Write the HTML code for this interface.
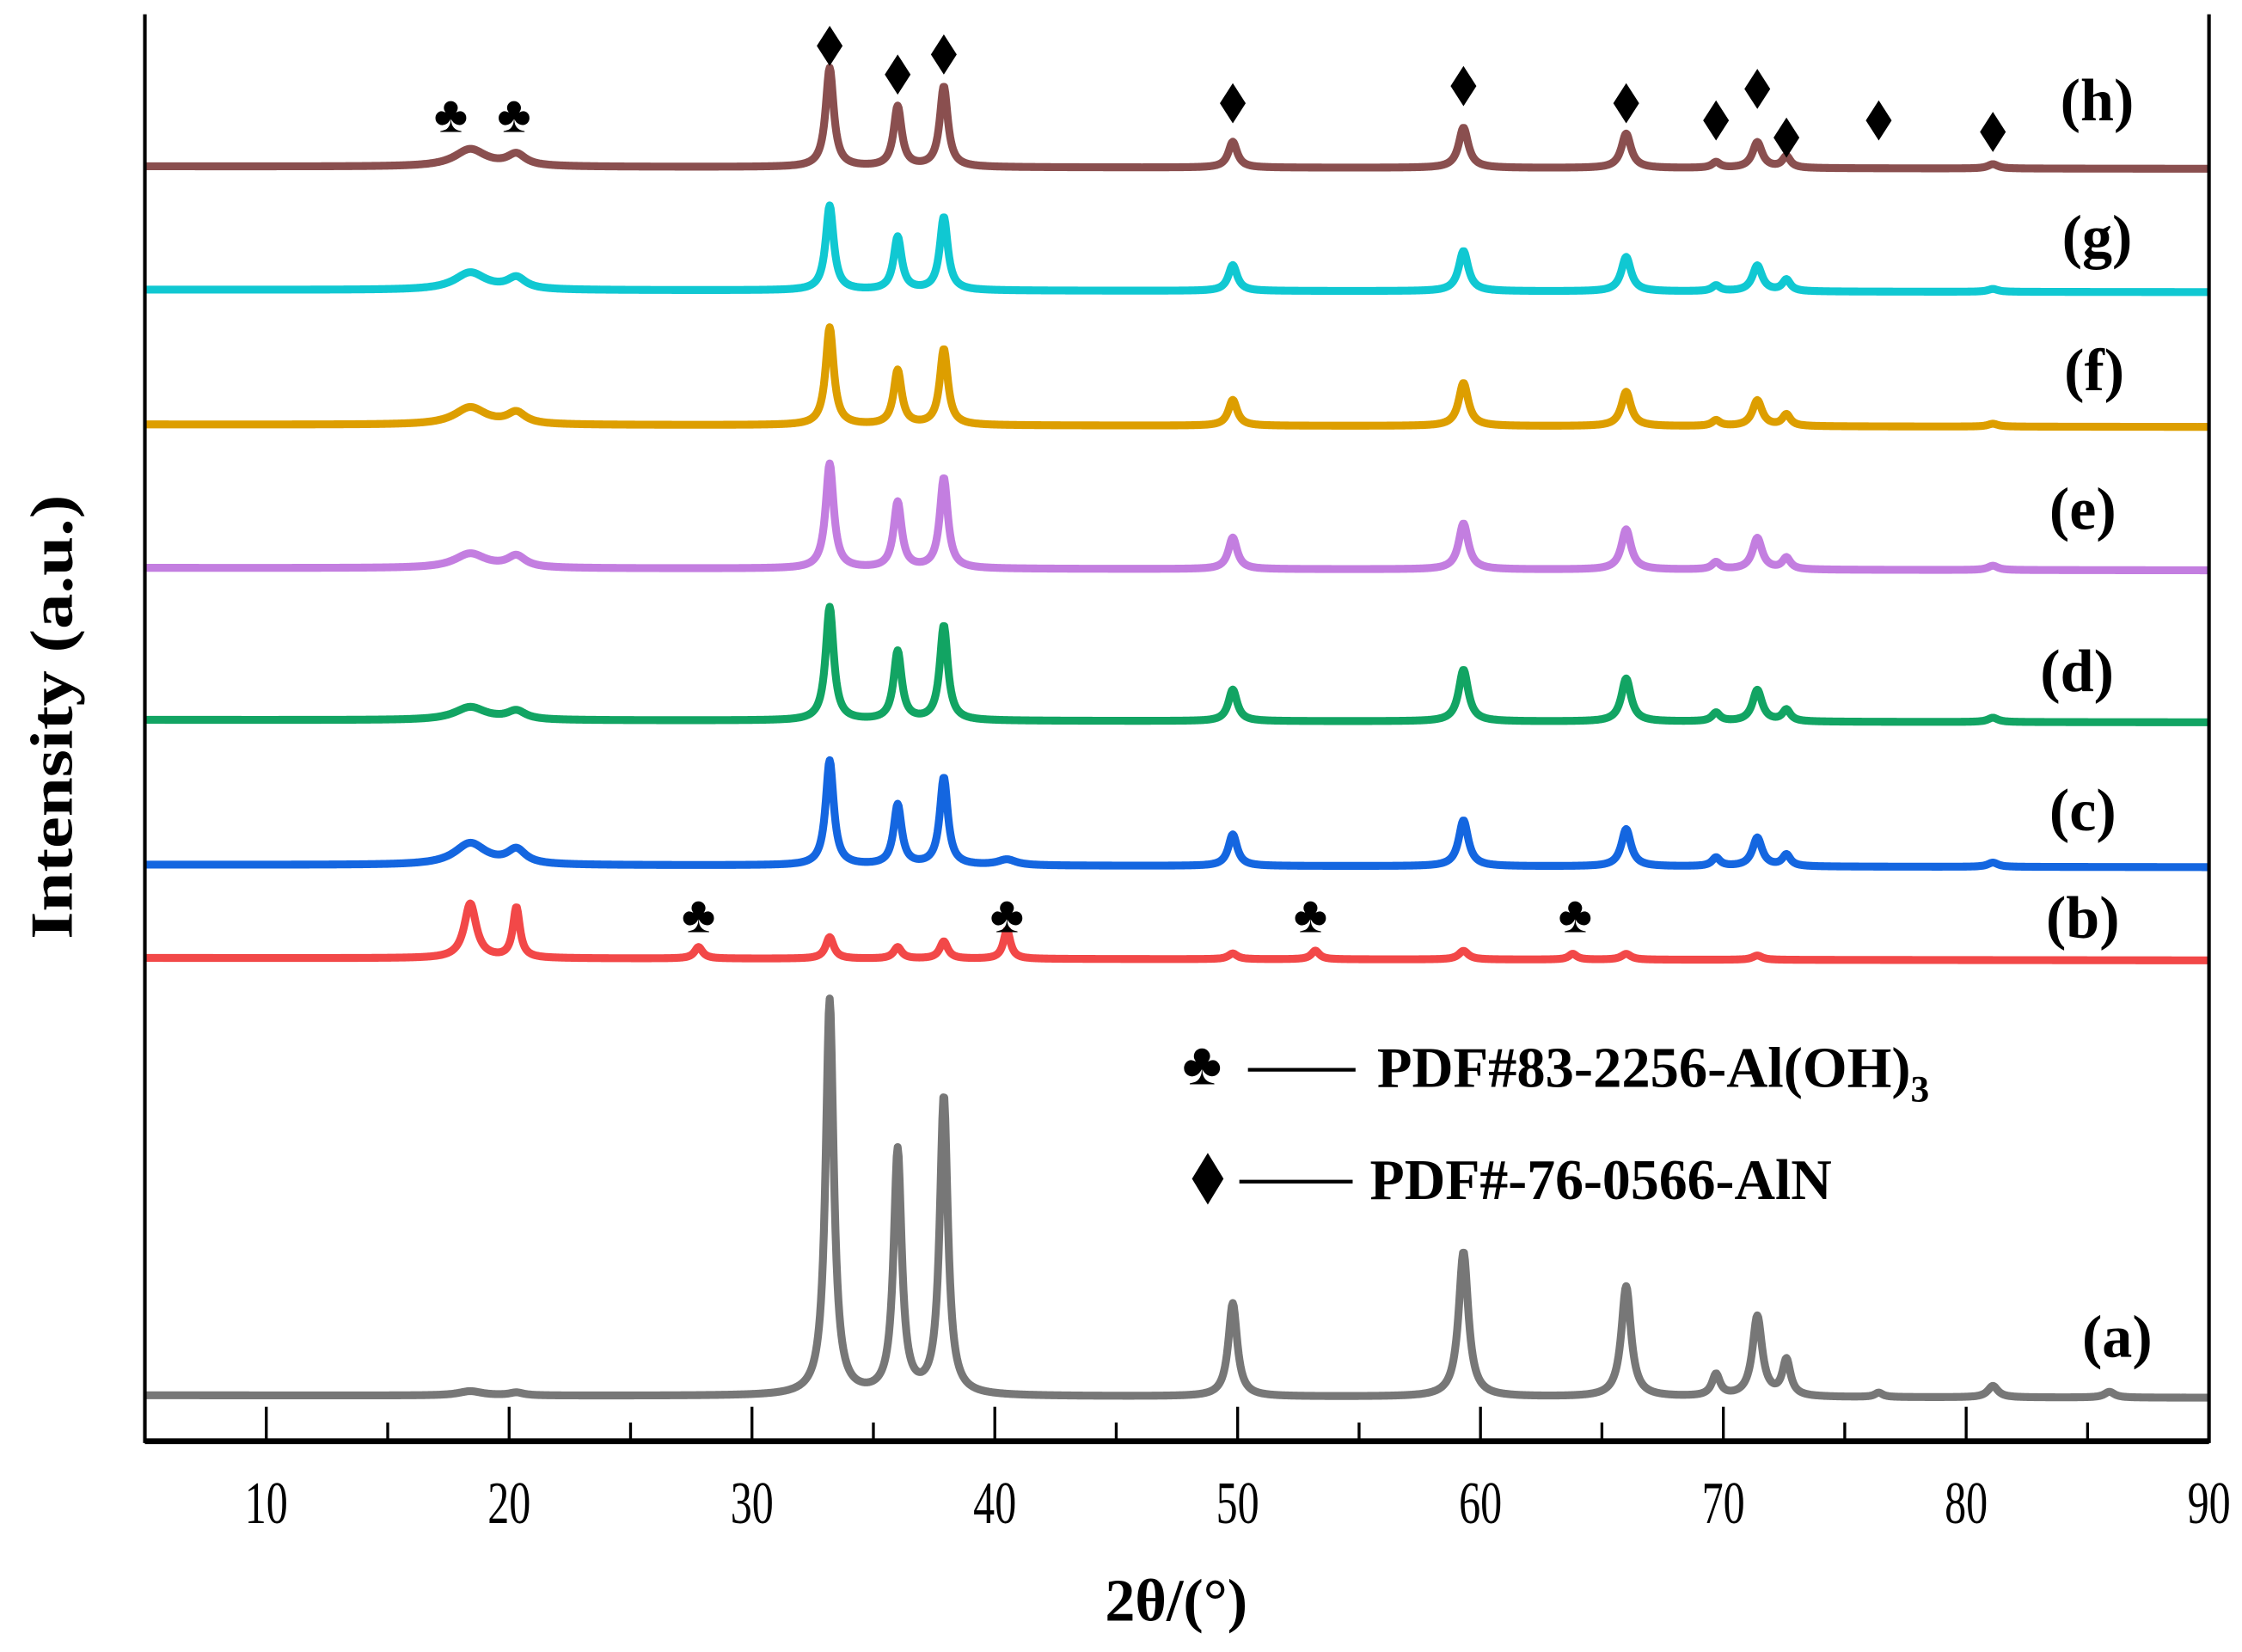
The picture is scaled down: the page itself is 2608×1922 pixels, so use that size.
<!DOCTYPE html>
<html><head><meta charset="utf-8"><style>
html,body{margin:0;padding:0;background:#fff}
svg{display:block}
text{font-family:"Liberation Serif",serif}
</style></head><body>
<svg id="chart" width="2608" height="1922" viewBox="0 0 1563 1152" preserveAspectRatio="none" xmlns="http://www.w3.org/2000/svg">
<defs><clipPath id="pc"><rect x="101" y="10" width="1439" height="995"/></clipPath></defs>
<g id="series" clip-path="url(#pc)"></g>
<g id="axes"></g>
<g id="marks"></g>
<text transform="translate(50,500) rotate(-90)" text-anchor="middle" font-size="42" font-weight="bold" textLength="310" lengthAdjust="spacingAndGlyphs">Intensity (a.u.)</text>
<text x="820" y="1130" text-anchor="middle" font-size="42" font-weight="bold">2θ/(°)</text>
<g>
<text x="838" y="756" text-anchor="middle" font-size="42">♣</text>
<line x1="870" y1="746" x2="945" y2="746" stroke="#000" stroke-width="2.5"/>
<text x="960" y="758" font-size="40" font-weight="bold"><tspan textLength="372" lengthAdjust="spacingAndGlyphs">PDF#83-2256-Al(OH)</tspan><tspan font-size="26" dy="10">3</tspan></text>
<path d="M842,804 L853,822 L842,840 L831,822 Z" fill="#000"/>
<line x1="864" y1="824" x2="943" y2="824" stroke="#000" stroke-width="2.5"/>
<text x="955" y="836" font-size="40" font-weight="bold" textLength="322" lengthAdjust="spacingAndGlyphs">PDF#-76-0566-AlN</text>
</g>
</svg>
<script>
// ---- data ----
const peakPositions = [18.4, 20.3, 27.8, 33.2, 36.0, 37.9, 40.5, 49.8, 53.2, 59.3, 63.8, 66.0, 69.7, 71.4, 72.6, 76.4, 81.1, 85.9];
const peakWidths    = [0.6, 0.35, 0.4, 0.2, 0.2, 0.2, 0.35, 0.22, 0.4, 0.24, 0.4, 0.24, 0.2, 0.24, 0.2, 0.2, 0.25, 0.25];
const seriesLabels = ['(a)','(b)','(c)','(d)','(e)','(f)','(g)','(h)'];
const seriesOffsets = [973, 668, 603, 502, 396, 296, 202, 116];
const seriesColors = ['#777777','#f24848','#1466e0','#12a463','#c37ee0','#dd9e00','#10c8d2','#8a4f4f'];
const heightsA = [3, 2, 0, 276, 170, 208, 0, 65, 0, 101, 0, 77, 15, 56, 25, 3, 8, 4];
const heightsB = [38, 35, 8, 15, 8, 12, 20, 4, 6, 6, 4, 4, 0, 3, 0, 0, 0, 0];
const heightsC = [15, 10, 0, 73, 42, 61, 4, 22, 0, 32, 0, 26, 6, 20, 8, 0, 3, 0];
const heightsD = [9, 6, 0, 79, 48, 66, 0, 22, 0, 36, 0, 30, 6, 22, 8, 0, 3, 0];
const heightsE = [10, 8, 0, 73, 46, 63, 0, 22, 0, 32, 0, 28, 5, 22, 8, 0, 3, 0];
const heightsF = [12, 8, 0, 68, 38, 53, 0, 18, 0, 30, 0, 24, 4, 18, 8, 0, 2, 0];
const heightsG = [12, 8, 0, 59, 37, 51, 0, 18, 0, 28, 0, 24, 4, 18, 8, 0, 2, 0];
const heightsH = [12, 8, 0, 69, 42, 56, 0, 18, 0, 28, 0, 24, 4, 18, 8, 0, 3, 0];
const allHeights = [heightsA, heightsB, heightsC, heightsD, heightsE, heightsF, heightsG, heightsH];
const broadWidthScale = [1, 0.5, 1.3, 1.3, 1.3, 1.3, 1.3, 1.3];
const xTicks = [10, 20, 30, 40, 50, 60, 70, 80, 90];
const diamondPos = [33.2, 36.0, 37.9, 49.8, 59.3, 66.0, 69.7, 71.4, 72.6, 76.4, 81.1];
const diamondY = [32, 52, 38, 72, 60, 72, 84, 62, 96, 84, 92];
const clubPosH = [17.6, 20.2];
const clubPosB = [27.8, 40.5, 53.0, 63.9];
const labelPos = [[1476,932],[1452,640],[1452,565],[1448,468],[1452,355],[1460,258],[1462,165],[1462,70]];

// ---- axis functions ----
const X0 = 101, X1 = 1540, Y0 = 10, Y1 = 1005, XMIN = 5, XMAX = 90;
const xs = v => X0 + (v - XMIN) / (XMAX - XMIN) * (X1 - X0);
const NS = 'http://www.w3.org/2000/svg';
function mk(tag, attrs, parent) { const e = document.createElementNS(NS, tag); for (const k in attrs) e.setAttribute(k, attrs[k]); parent.appendChild(e); return e; }

const sg = document.getElementById('series');
allHeights.forEach((hs, si) => {
  const pts = [];
  for (let x = 5; x <= 90.001; x += 0.04) {
    let y = seriesOffsets[si] + (x - 5) * 0.02;
    peakPositions.forEach((p, i) => {
      let w = peakWidths[i];
      if (i < 3 || i === 6 || i === 8 || i === 10) w *= broadWidthScale[si];
      const d = (x - p) / w;
      y -= hs[i] / (1 + d * d);
    });
    pts.push(xs(x).toFixed(2) + ',' + y.toFixed(2));
  }
  const pl = mk('polyline', {points: pts.join(' '), fill: 'none', stroke: seriesColors[si], 'stroke-width': 5.5, 'stroke-linejoin': 'round'}, sg);
  
  
  const t = mk('text', {x: labelPos[si][0], y: labelPos[si][1] + 14, 'text-anchor': 'middle', 'font-size': 42, 'font-weight': 'bold'}, document.getElementById('chart'));
  t.textContent = seriesLabels[si];
  
  
});

const ax = document.getElementById('axes');
const fr = mk('path', {d: `M${X0},${Y0} L${X0},${Y1} L${X1},${Y1} L${X1},${Y0}`, fill: 'none', stroke: '#000', 'stroke-width': 2.5}, ax);


const xl = mk('line', {x1: X0, y1: Y1, x2: X1, y2: Y1, stroke: '#000', 'stroke-width': 4}, ax);


for (let v = 5; v <= 90; v += 5) {
  const major = v % 10 === 0;
  const tk = mk('line', {x1: xs(v), y1: Y1, x2: xs(v), y2: Y1 - (major ? 24 : 13), stroke: '#000', 'stroke-width': 2}, ax);
  
  
}
xTicks.forEach(v => {
  const t = mk('text', {x: xs(v) - 15, y: 1062, 'font-size': 42, textLength: 30, lengthAdjust: 'spacingAndGlyphs'}, ax);
  t.textContent = v;
  
  
});

const mg = document.getElementById('marks');
diamondPos.forEach((p, i) => {
  const cx = xs(p), cy = diamondY[i];
  const d = mk('path', {d: `M${cx},${cy-14} L${cx+9},${cy} L${cx},${cy+14} L${cx-9},${cy} Z`, fill: '#000'}, mg);
  
  
});
clubPosH.forEach(p => {
  const t = mk('text', {x: xs(p), y: 92, 'text-anchor': 'middle', 'font-size': 36}, mg);
  t.textContent = '♣';
  
  
});
clubPosB.forEach(p => {
  const t = mk('text', {x: xs(p), y: 650, 'text-anchor': 'middle', 'font-size': 36}, mg);
  t.textContent = '♣';
  
  
});
</script>
</body></html>
